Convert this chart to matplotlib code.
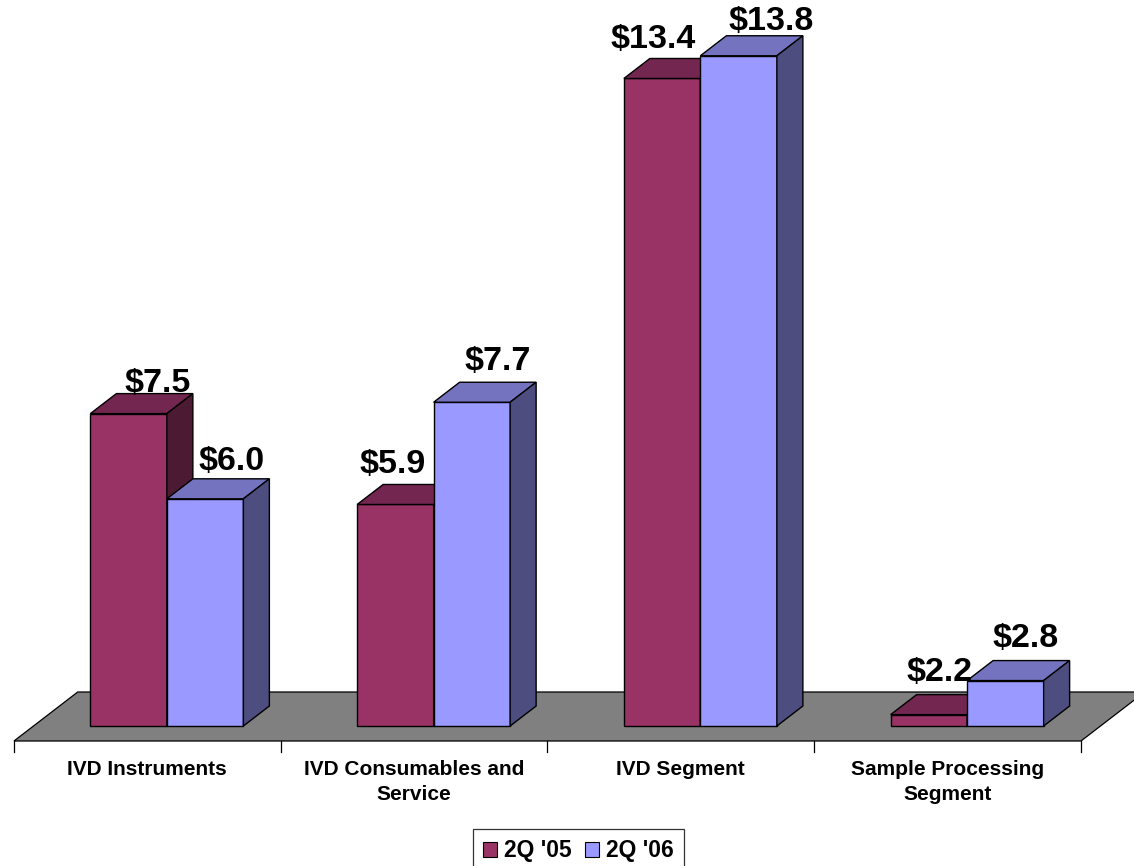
import matplotlib
matplotlib.use("Agg")
import matplotlib.pyplot as plt
from matplotlib.patches import Polygon, Patch

plt.rcParams['font.family'] = ['Liberation Sans', 'DejaVu Sans']

# ---- data ----
categories = ["IVD Instruments", "IVD Consumables and\nService", "IVD Segment",
              "Sample Processing\nSegment"]
series_names = ["2Q '05", "2Q '06"]
values_2q05 = [7.5, 5.9, 13.4, 2.2]
values_2q06 = [6.0, 7.7, 13.8, 2.8]

# ---- styling ----
FRONT = ["#993366", "#9999FF"]
TOP = ["#732650", "#7373BF"]
SIDE = ["#4D1A33", "#4D4D80"]
FLOOR = "#808080"

W_PX, H_PX, DPI = 1134, 866, 100
PX_PER_CAT = 266.75          # horizontal pixels per category slot
PX_PER_UNIT = 56.8           # vertical pixels per value unit
AXIS_LEFT_PX = 14            # left end of floor's front edge
FLOOR_FRONT_PX = 741         # floor front edge, measured from top
VMIN = 2.0                   # value axis minimum (floor level)
SLOPE = 1.3                  # depth direction: x pixels per y pixel
FLOOR_DEPTH = 49             # floor depth in pixels
BAR_D0, BAR_D1 = 15, 35      # bar depth span in pixels
BAR_W = 76.5 / PX_PER_CAT    # width of one bar in category units
TICK_LEN = 11

# value label nudges (pixels): x from front-face centre, y above back top edge
LABEL_NUDGE = [[(29, 2), (-3, 11), (-9, 10), (11, 14)],
               [(26, 9), (26, 12), (33, 6), (20, 14)]]


def px_x(n):
    return n / PX_PER_CAT


def px_y(n):
    return n / PX_PER_UNIT


def depth(x, y, d):
    """Shift a front-plane point back by d pixels of depth."""
    return (x + px_x(d * SLOPE), y + px_y(d))


fig = plt.figure(figsize=(W_PX / DPI, H_PX / DPI), dpi=DPI)
ax = fig.add_axes([0, 0, 1, 1])
ax.set_xlim(-px_x(AXIS_LEFT_PX), px_x(W_PX - AXIS_LEFT_PX))
ax.set_ylim(VMIN - px_y(H_PX - FLOOR_FRONT_PX), VMIN + px_y(FLOOR_FRONT_PX))
ax.axis("off")

n = len(categories)

# floor
fl = [(0, VMIN), (n, VMIN), depth(n, VMIN, FLOOR_DEPTH), depth(0, VMIN, FLOOR_DEPTH)]
ax.add_patch(Polygon(fl, closed=True, facecolor=FLOOR, edgecolor="black", lw=0.9, zorder=1))

# category ticks below the floor front edge
for i in range(n + 1):
    ax.plot([i, i], [VMIN, VMIN - px_y(TICK_LEN)], color="black", lw=0.9, zorder=1)

# bars
half_gap = (1 - 2 * BAR_W) / 2
series = [values_2q05, values_2q06]
for i in range(n):
    for s, vals in enumerate(series):
        v = vals[i]
        x0 = i + half_gap + s * BAR_W
        x1 = x0 + BAR_W
        fbl = depth(x0, VMIN, BAR_D0)
        fbr = depth(x1, VMIN, BAR_D0)
        ftr = depth(x1, v, BAR_D0)
        ftl = depth(x0, v, BAR_D0)
        btl = depth(x0, v, BAR_D1)
        btr = depth(x1, v, BAR_D1)
        bbr = depth(x1, VMIN, BAR_D1)
        z = 2 + s
        kw = dict(closed=True, edgecolor="black", lw=1.0, joinstyle="miter", zorder=z)
        ax.add_patch(Polygon([fbl, fbr, ftr, ftl], facecolor=FRONT[s], **kw))
        ax.add_patch(Polygon([ftl, ftr, btr, btl], facecolor=TOP[s], **kw))
        ax.add_patch(Polygon([fbr, bbr, btr, ftr], facecolor=SIDE[s], **kw))

        nx, ny = LABEL_NUDGE[s][i]
        cx = (fbl[0] + fbr[0]) / 2 + px_x(nx)
        cy = btl[1] + px_y(ny)
        ax.text(cx, cy, f"${v:.1f}", ha="center", va="baseline",
                fontsize=24.5, fontweight="bold", color="black", zorder=10)

# category labels
for i, name in enumerate(categories):
    ax.text(i + 0.5, VMIN - px_y(19), name, ha="center", va="top",
            fontsize=15, fontweight="bold", linespacing=1.42, zorder=10)

# legend
handles = [Patch(facecolor=FRONT[s], edgecolor="black", lw=0.8, label=series_names[s])
           for s in range(2)]
leg = fig.legend(handles=handles, loc="upper center", ncol=2,
                 bbox_to_anchor=(578.5 / W_PX, 1 - 829 / H_PX),
                 prop=dict(size=16.5, weight="bold"), frameon=True, fancybox=False,
                 handlelength=0.6, handleheight=0.6, handletextpad=0.3,
                 columnspacing=0.6, borderpad=0.45, borderaxespad=0)
leg.get_frame().set_edgecolor("black")
leg.get_frame().set_linewidth(0.9)

fig.savefig("out.png", dpi=DPI)
